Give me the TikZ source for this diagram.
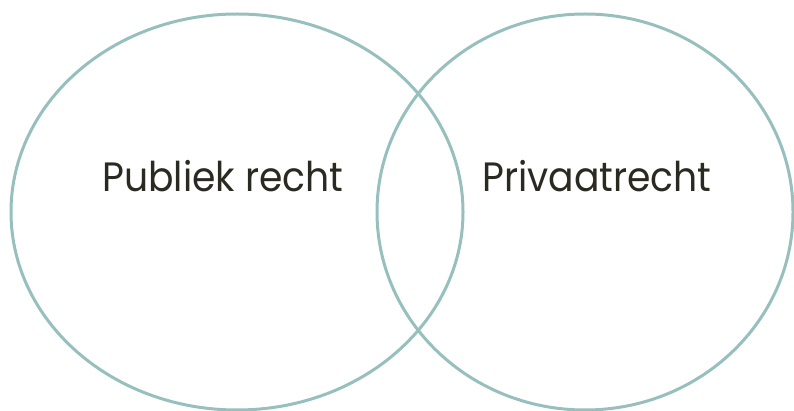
\documentclass[tikz,border=0pt]{standalone}
\usepackage{fontspec}
\setmainfont{Poppins}
\definecolor{ringcol}{RGB}{150,191,189}
\definecolor{txtcol}{RGB}{43,42,34}
\begin{document}
\begin{tikzpicture}[x=1pt,y=-1pt,
  ring/.style={draw=ringcol,line width=3pt},
  lbl/.style={text=txtcol,anchor=base,inner sep=0pt,font=\fontsize{41}{48}\selectfont}]
\useasboundingbox (0,0) rectangle (794,411);
\draw[ring] (237,212) ellipse [x radius=226,y radius=198];
\draw[ring] (585,212) ellipse [x radius=208,y radius=198];
\node[lbl] (pub) at (223,192) {\scalebox{0.92}[1]{Publiek recht}};
\node[lbl] (priv) at (597,192) {\scalebox{0.92}[1]{Privaatrecht}};
\end{tikzpicture}
\end{document}
